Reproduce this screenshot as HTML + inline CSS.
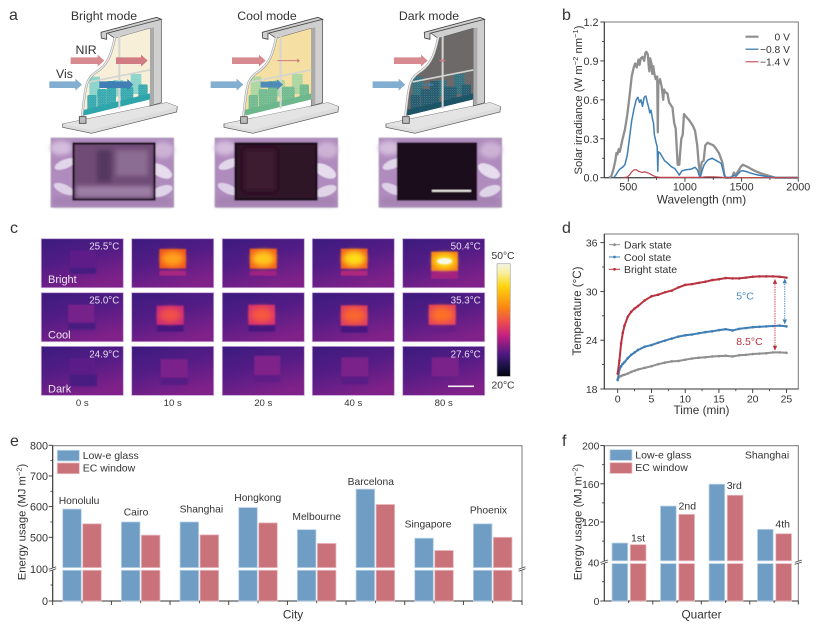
<!DOCTYPE html>
<html lang="en">
<head>
<meta charset="utf-8">
<title>Electrochromic window figure</title>
<style>
html,body{margin:0;padding:0;background:#fff;width:816px;height:626px;overflow:hidden}
svg{display:block}
text{font-family:"Liberation Sans",sans-serif;fill:#333}
</style>
</head>
<body>
<svg id="fig" xmlns="http://www.w3.org/2000/svg" width="816" height="626" viewBox="0 0 816 626">
<defs>
<linearGradient id="tbg" x1="0.1" y1="0" x2="0.55" y2="1">
<stop offset="0" stop-color="#3d1b7e"/><stop offset="0.45" stop-color="#521c85"/><stop offset="1" stop-color="#7f2189"/>
</linearGradient>
<linearGradient id="cbar" x1="0" y1="0" x2="0" y2="1">
<stop offset="0" stop-color="#f4f4e6"/><stop offset="0.08" stop-color="#f8efa0"/><stop offset="0.2" stop-color="#fcd40e"/><stop offset="0.38" stop-color="#fb8a12"/><stop offset="0.52" stop-color="#ec4a4e"/><stop offset="0.64" stop-color="#c21f82"/><stop offset="0.8" stop-color="#4d1a80"/><stop offset="0.92" stop-color="#15123f"/><stop offset="1" stop-color="#02030c"/>
</linearGradient>
<pattern id="speck" width="7" height="7" patternUnits="userSpaceOnUse">
<rect x="1" y="1" width="2.5" height="2.5" fill="#fff" opacity="0.4"/><rect x="4.5" y="4" width="2" height="2" fill="#fff" opacity="0.3"/>
</pattern>
<filter id="blur1" x="-30%" y="-30%" width="160%" height="160%"><feGaussianBlur stdDeviation="0.9"/></filter>
<filter id="blur2" x="-40%" y="-40%" width="180%" height="180%"><feGaussianBlur stdDeviation="3"/></filter>
<filter id="blur3" x="-10%" y="-10%" width="120%" height="120%"><feGaussianBlur stdDeviation="0.5"/></filter>
<filter id="blur4" x="-20%" y="-40%" width="140%" height="180%"><feGaussianBlur stdDeviation="2.2"/></filter>
</defs>

<g font-size="16">
<text x="9" y="20" font-size="16">a</text>
<text x="562" y="20" font-size="16">b</text>
<text x="10" y="233" font-size="16">c</text>
<text x="562" y="233" font-size="16">d</text>
<text x="10" y="446" font-size="16">e</text>
<text x="562" y="446" font-size="16">f</text>
</g>

<g id="panelA"></g>
<text x="104" y="20" font-size="12.3" text-anchor="middle">Bright mode</text>
<text x="267" y="20" font-size="12.3" text-anchor="middle">Cool mode</text>
<text x="429" y="20" font-size="12.3" text-anchor="middle">Dark mode</text>
<text x="75.5" y="54" font-size="12.3">NIR</text>
<text x="56" y="78" font-size="12.3">Vis</text>

<g id="panelB"></g>
<text x="701.5" y="203.5" font-size="11.8" text-anchor="middle">Wavelength (nm)</text>
<text transform="translate(582,100) rotate(-90)" font-size="11.3" text-anchor="middle">Solar irradiance (W m<tspan dy="-4" font-size="7.5">−2</tspan><tspan dy="4"> nm</tspan><tspan dy="-4" font-size="7.5">−1</tspan><tspan dy="4">)</tspan></text>

<g id="panelC"></g>

<g id="panelD"></g>
<text x="701.5" y="414" font-size="11.8" text-anchor="middle">Time (min)</text>
<text transform="translate(581,311) rotate(-90)" font-size="11.6" text-anchor="middle">Temperature (°C)</text>

<g id="panelE"></g>
<text x="293" y="618.5" font-size="11.8" text-anchor="middle">City</text>
<text transform="translate(25.5,522) rotate(-90)" font-size="11.3" text-anchor="middle">Energy usage (MJ m<tspan dy="-4" font-size="7.5">−2</tspan><tspan dy="4">)</tspan></text>

<g id="panelF"></g>
<text x="701.5" y="618.5" font-size="11.8" text-anchor="middle">Quarter</text>
<text transform="translate(581.5,522) rotate(-90)" font-size="11.3" text-anchor="middle">Energy usage (MJ m<tspan dy="-4" font-size="7.5">−2</tspan><tspan dy="4">)</tspan></text>
<text x="767" y="458.5" font-size="10.5" text-anchor="middle">Shanghai</text>
</svg>

<script>
/* ---------- panel b data ---------- */
const grayWavelengths = [330,350,370,385,395,405,415,425,435,450,470,490,510,530,545,560,575,590,600,610,625,640,650,660,672,680,686,692,705,712,720,730,742,755,760,765,780,795,808,816,825,845,860,875,890,905,918,928,936,950,958,968,980,992,1010,1040,1070,1090,1108,1122,1134,1148,1165,1180,1200,1225,1250,1270,1300,1330,1348,1360,1400,1420,1432,1445,1470,1490,1510,1550,1600,1650,1700,1780,1800,2000];
const grayValues = [0,0.01,0.07,0.13,0.19,0.18,0.22,0.2,0.24,0.3,0.37,0.48,0.62,0.78,0.84,0.88,0.85,0.91,0.87,0.92,0.93,0.9,0.96,0.97,0.95,0.86,0.82,0.92,0.88,0.8,0.86,0.8,0.76,0.78,0.35,0.72,0.76,0.7,0.6,0.68,0.66,0.65,0.58,0.56,0.54,0.42,0.38,0.22,0.1,0.1,0.2,0.3,0.33,0.49,0.47,0.44,0.4,0.36,0.25,0.1,0.03,0.12,0.13,0.25,0.27,0.26,0.25,0.23,0.19,0.12,0.02,0,0,0.01,0.04,0.02,0.05,0.08,0.1,0.085,0.06,0.04,0.025,0.005,0,0];
const blueWavelengths = [370,390,410,430,450,470,490,510,530,550,570,585,600,612,625,640,655,668,680,690,700,712,722,730,745,755,760,765,780,800,820,850,880,910,935,950,970,1000,1050,1090,1110,1125,1135,1150,1170,1200,1240,1280,1320,1345,1355,1410,1430,1450,1470,1490,1510,1550,1600,1650,1700,1780,1800,2000];
const blueValues = [0,0.02,0.05,0.07,0.08,0.1,0.17,0.3,0.44,0.53,0.6,0.62,0.58,0.6,0.55,0.62,0.63,0.58,0.54,0.5,0.52,0.46,0.42,0.33,0.27,0.24,0.05,0.2,0.19,0.16,0.13,0.11,0.085,0.07,0.04,0.02,0.05,0.06,0.065,0.08,0.06,0.02,0,0.05,0.1,0.135,0.15,0.13,0.11,0.03,0,0,0.02,0.01,0.03,0.05,0.055,0.045,0.03,0.02,0.012,0.003,0,0];
const redWavelengths = [450,490,510,530,550,570,590,620,640,660,680,710,740,780,1150,1180,1250,1320,1350,2000];
const redValues = [0,0.005,0.02,0.045,0.06,0.062,0.05,0.04,0.045,0.042,0.035,0.02,0.008,0.002,0.002,0.007,0.006,0.004,0,0];
const bXTicks = [500,1000,1500,2000];
const bYTicks = ['0.0','0.3','0.6','0.9','1.2'];
const bLegend = ['0 V','−0.8 V','−1.4 V'];

/* ---------- panel d data ---------- */
const times = [0,0.25,0.5,0.75,1,1.5,2,2.5,3,4,5,6,7,8,9,10,11,12,13,14,15,16,17,18,19,20,21,22,23,24,25];
const brightTemps = [19.9,21.5,23.6,24.9,25.8,26.9,27.5,27.9,28.2,28.9,29.4,29.6,29.9,30.1,30.5,30.8,30.9,31.05,31.2,31.4,31.5,31.65,31.6,31.6,31.7,31.8,31.85,31.85,31.85,31.8,31.7];
const coolTemps = [19.1,20.4,20.8,21.1,21.3,21.8,22.2,22.5,22.8,23.2,23.4,23.7,23.95,24.2,24.45,24.6,24.7,24.85,25,25.1,25.25,25.35,25.2,25.4,25.5,25.6,25.65,25.7,25.75,25.8,25.7];
const darkTemps = [19.2,19.5,19.6,19.7,19.75,19.9,20.1,20.25,20.4,20.6,20.8,21.05,21.25,21.4,21.45,21.6,21.75,21.85,21.9,22,22.05,22.1,22,22.15,22.2,22.3,22.35,22.4,22.5,22.5,22.45];
const dXTicks = [0,5,10,15,20,25];
const dYTicks = [18,24,30,36];
const dLegend = ['Dark state','Cool state','Bright state'];

/* ---------- panel e data ---------- */
const cities = ['Honolulu','Cairo','Shanghai','Hongkong','Melbourne','Barcelona','Singapore','Phoenix'];
const cityLowE = [592,550,550,597,525,657,497,544];
const cityEC = [544,507,508,547,480,607,457,500];
const eYTicks = [0,100,500,600,700,800];
const eYMinor = [50,550,650,750];
const cityLabelLift = [5,6.7,9.4,6.5,9.7,4,10.6,10.4];
const cityLabelShift = [-3,-4.7,2,-0.3,0,-4.6,-6,-4.3];

/* ---------- panel f data ---------- */
const quarters = ['1st','2nd','3rd','4th'];
const quarterLowE = [98,136.7,159.6,112.3];
const quarterEC = [96.3,128,148,107.7];
const fYTicks = [0,40,120,160,200];
const fYMinor = [20,100,140,180];
const barLegend = ['Low-e glass','EC window'];

const NS = 'http://www.w3.org/2000/svg';
function mk(parent, tag, attrs, name) {
  const el = document.createElementNS(NS, tag);
  for (const k in attrs) el.setAttribute(k, attrs[k]);
  
  
  parent.appendChild(el);
  return el;
}
function label(parent, x, y, str, size, anchor, fill, name) {
  const el = mk(parent, 'text', {x:x, y:y, 'font-size':size, 'text-anchor':anchor||'start'}, name);
  if (fill) el.style.fill = fill;
  el.textContent = str;
  return el;
}
function seg(parent, x1, y1, x2, y2, stroke, w, name) {
  return mk(parent, 'line', {x1:x1, y1:y1, x2:x2, y2:y2, stroke:stroke, 'stroke-width':w}, name);
}
const BLUE = '#6f9dc4', RED = '#c9727a';

/* ---------- panel a ---------- */
const panelA = document.getElementById('panelA');
function arrow(g, x0, x1, cy, fill, halfBody, halfHead, headLen, name) {
  const pts = [[x0,cy-halfBody],[x1-headLen,cy-halfBody],[x1-headLen,cy-halfHead],[x1,cy],[x1-headLen,cy+halfHead],[x1-headLen,cy+halfBody],[x0,cy+halfBody]];
  mk(g, 'polygon', {points:pts.join(' '), fill:fill}, name);
}
function buildWindow(dx, key, glass, rear, front, opts) {
  const g = mk(panelA, 'g', {transform:'translate(' + dx + ',0) scale(0.3333)', filter:'url(#blur3)'}, key + '-window-illustration');
  const glassPath = 'M345,115 C335,160 325,190 295,212 C262,232 258,250 252,300 L246,348 L450,298 L450,85 Z';
  mk(g, 'polygon', {points:'188,372 500,308 532,320 530,336 275,400 188,382', fill:'#dcdcdc', stroke:'#555', 'stroke-width':2}, key + '-window-sill');
  mk(g, 'polygon', {points:'188,372 275,390 530,322 532,320 500,308', fill:'#e4e4e4'}, key + '-sill-top');
  mk(g, 'polygon', {points:'320,98 472,54 484,58 484,308 450,318 450,85 345,115', fill:'#cfcfcf', stroke:'#444', 'stroke-width':2}, key + '-window-frame');
  mk(g, 'polygon', {points:'450,85 462,82 462,312 450,316', fill:'#aaa'}, key + '-frame-inner-shade');
  const cid = key + 'Clip';
  const clip = mk(g, 'clipPath', {id:cid}, key + '-glass-clip');
  mk(clip, 'path', {d:glassPath}, key + '-glass-clip-shape');
  mk(g, 'path', {d:glassPath, fill:glass}, key + '-window-glass');
  const city = mk(g, 'g', {'clip-path':'url(#' + cid + ')'}, key + '-city-skyline');
  [[268,230,32,60],[392,222,32,60],[340,240,30,50]].forEach(function (b) {
    mk(city, 'rect', {x:b[0], y:b[1], width:b[2], height:b[3], fill:rear}, key + '-rear-building');
    mk(city, 'rect', {x:b[0], y:b[1], width:b[2], height:b[3], fill:'url(#speck)'}, key + '-rear-building-windows');
  });
  [[262,285,28,70],[292,267,28,80],[320,243,28,90],[362,260,38,70],[415,253,28,60]].forEach(function (b) {
    mk(city, 'rect', {x:b[0], y:b[1], width:b[2], height:b[3], rx:5, fill:front}, key + '-front-building');
    mk(city, 'rect', {x:b[0], y:b[1], width:b[2], height:b[3], rx:5, fill:'url(#speck)'}, key + '-front-building-windows');
  });
  mk(city, 'polygon', {points:'250,330 450,280 450,300 250,352', fill:front}, key + '-city-base');
  mk(g, 'line', {x1:358, y1:108, x2:358, y2:326, stroke:'#d2d5d2', 'stroke-width':6}, key + '-vertical-muntin');
  mk(g, 'line', {x1:268, y1:246, x2:450, y2:210, stroke:'#d2d5d2', 'stroke-width':5}, key + '-horizontal-muntin');
  mk(g, 'path', {d:'M345,112 C335,160 325,190 295,212 C262,232 258,250 252,300 L246,350', fill:'none', stroke:'#888', 'stroke-width':7}, key + '-sash-edge');
  mk(g, 'path', {d:'M345,112 C335,160 325,190 295,212 C262,232 258,250 252,300 L246,350', fill:'none', stroke:'#e8eaea', 'stroke-width':4.4}, key + '-sash-face');
  mk(g, 'polygon', {points:'303,97 470,52 484,58 320,100 320,118 304,114', fill:'#cfcfcf', stroke:'#444', 'stroke-width':2.5}, key + '-top-beam');
  mk(g, 'rect', {x:238, y:350, width:20, height:20, fill:'#bbb', stroke:'#444', 'stroke-width':2.5}, key + '-sash-foot');
  arrow(g, 212, 313, 182, '#d78a8f', 10, 18, 20, key + '-outer-nir-arrow');
  arrow(g, 148, 246, 254, '#82aed2', 10, 18, 20, key + '-outer-vis-arrow');
  if (opts.nirInner) {
    arrow(g, 348, opts.nirInner, 182, '#d07c82', opts.thin ? 1.5 : 10, opts.thin ? 7 : 18, opts.thin ? 8 : 20, key + '-transmitted-nir-arrow');
  }
  arrow(g, 298, opts.visInner, 254, opts.visColor, opts.visBody, opts.visHead, 18, key + '-transmitted-vis-arrow');
}
buildWindow(0, 'bright', '#f8efd8', '#86d2c8', '#2fa5ab', {nirInner:443, visInner:400, visColor:'#3f7fb5', visBody:10, visHead:17});
buildWindow(161.3, 'cool', '#f6dfa2', '#a8d49a', '#6cb78b', {nirInner:416, thin:true, visInner:365, visColor:'#4f8bb8', visBody:9, visHead:16});
buildWindow(323.3, 'dark', '#6d6967', '#2b6a78', '#1c5468', {nirInner:366, thin:true, visInner:334, visColor:'#3f7fb0', visBody:1.5, visHead:5});

function photo(x, rx, rw, fill, border, key) {
  const g = mk(panelA, 'g', {filter:'url(#blur3)'}, key + '-device-photo');
  mk(g, 'rect', {x:x, y:138, width:122.7, height:69.3, fill:'#b08cbe', stroke:'#a99bb0', 'stroke-width':0.7}, key + '-photo-background');
  mk(g, 'ellipse', {cx:x+10, cy:148, rx:11, ry:7, fill:'#d4bcdc', filter:'url(#blur4)'}, key + '-photo-left-tree');
  mk(g, 'ellipse', {cx:x+112, cy:150, rx:11, ry:8, fill:'#cdb2d6', filter:'url(#blur4)'}, key + '-photo-right-tree');
  mk(g, 'rect', {x:x+2, y:197, width:118, height:9, fill:'#a482b2', filter:'url(#blur4)'}, key + '-photo-ground');
  mk(g, 'ellipse', {cx:x+14, cy:164, rx:11, ry:4.5, fill:'#e2d6ea', transform:'rotate(-22 ' + (x+14) + ' 164)'}, key + '-left-upper-glove');
  mk(g, 'ellipse', {cx:x+13, cy:189, rx:11, ry:4.5, fill:'#ddd0e6', transform:'rotate(25 ' + (x+13) + ' 189)'}, key + '-left-lower-glove');
  mk(g, 'ellipse', {cx:x+110, cy:171, rx:12, ry:6, fill:'#e6dcee', transform:'rotate(28 ' + (x+110) + ' 171)'}, key + '-right-upper-glove');
  mk(g, 'ellipse', {cx:x+111, cy:191, rx:11, ry:5, fill:'#e0d4e8', transform:'rotate(-20 ' + (x+111) + ' 191)'}, key + '-right-lower-glove');
  mk(g, 'rect', {x:rx, y:143.5, width:rw, height:56, fill:fill, stroke:border, 'stroke-width':2.2}, key + '-device-panel');
  return g;
}
const brightPhoto = photo(51, 73.5, 81, '#6f4c76', '#150a18', 'bright');
mk(brightPhoto, 'rect', {x:97, y:150, width:14, height:32, fill:'#54395e', filter:'url(#blur4)'}, 'bright-photo-building');
mk(brightPhoto, 'rect', {x:116, y:150, width:32, height:26, fill:'#8b6c92', filter:'url(#blur4)'}, 'bright-photo-tree');
mk(brightPhoto, 'rect', {x:76, y:186, width:76, height:11, fill:'#9d7fa6', filter:'url(#blur4)'}, 'bright-photo-foreground');
const coolPhoto = photo(215, 235.5, 81, '#2f1226', '#150a18', 'cool');
mk(coolPhoto, 'rect', {x:245, y:150, width:30, height:40, fill:'#431a34', opacity:0.8, filter:'url(#blur4)'}, 'cool-photo-tree-shadow');
const darkPhoto = photo(379, 398, 78, '#1d0a1e', '#1a0a1b', 'dark');
mk(darkPhoto, 'rect', {x:432, y:190, width:39, height:1.8, fill:'#f2f0ea'}, 'photo-scale-bar');

/* ---------- panel b chart ---------- */
const panelB = document.getElementById('panelB');
const bx = function (w) { return 628.3 + (w - 500) * 0.1133; };
const by = function (v) { return 177.7 - v * 129.75; };
mk(panelB, 'rect', {x:604.3, y:22, width:194, height:155.7, fill:'none', stroke:'#777', 'stroke-width':1}, 'b-plot-frame');
seg(panelB, 604.3, 22, 604.3, 178, '#333', 1, 'b-y-axis');
seg(panelB, 604, 177.7, 798.3, 177.7, '#333', 1, 'b-x-axis');
bXTicks.forEach(function (t) {
  seg(panelB, bx(t), 177.7, bx(t), 181.7, '#333', 0.9, 'b-x-tick');
  label(panelB, bx(t), 190.5, String(t), 10.8, 'middle', null, 'b-x-tick-label');
  if (t < 2000) seg(panelB, bx(t + 250), 177.7, bx(t + 250), 180, '#333', 0.8, 'b-x-minor-tick');
});
bYTicks.forEach(function (t) {
  const v = parseFloat(t);
  seg(panelB, 600.3, by(v), 604.3, by(v), '#333', 0.9, 'b-y-tick');
  label(panelB, 598.5, by(v) + 4, t, 10.8, 'end', null, 'b-y-tick-label');
  if (v < 1.2) seg(panelB, 602, by(v + 0.15), 604.3, by(v + 0.15), '#333', 0.8, 'b-y-minor-tick');
});
function spectrum(xs, ys, color, w, name) {
  const pts = xs.map(function (x, i) { return bx(x).toFixed(1) + ',' + by(ys[i]).toFixed(1); }).join(' ');
  mk(panelB, 'polyline', {points:pts, fill:'none', stroke:color, 'stroke-width':w, 'stroke-linejoin':'round'}, name);
}
spectrum(grayWavelengths, grayValues, '#8f8f8f', 2.3, 'gray-0v-spectrum');
spectrum(blueWavelengths, blueValues, '#3f7fb5', 1.5, 'blue-minus-0.8v-spectrum');
spectrum(redWavelengths, redValues, '#c0434f', 1.2, 'red-minus-1.4v-spectrum');
['#8f8f8f', '#3f7fb5', '#d0646e'].forEach(function (c, i) {
  seg(panelB, 745.5, 36.7 + i * 12.5, 758.5, 36.7 + i * 12.5, c, i === 0 ? 2.2 : 1.3, 'b-legend-line');
  label(panelB, 790, 40.6 + i * 12.5, bLegend[i], 10.3, 'end', null, 'b-legend-label');
});

/* ---------- panel c ---------- */
const panelC = document.getElementById('panelC');
const TILE_W = 82, TILE_H = 49;
function tile(x, y, key, hot, strip, temp) {
  const g = mk(panelC, 'g', {transform:'translate(' + x + ',' + y + ')'}, key + '-thermal-image');
  mk(g, 'rect', {x:0, y:0, width:TILE_W, height:TILE_H, fill:'url(#tbg)'}, key + '-image-background');
  const inner = mk(g, 'g', {filter:'url(#blur1)'}, key + '-hot-sample');
  mk(inner, 'rect', {x:strip[0], y:strip[1], width:strip[2], height:strip[3], fill:strip[4]}, key + '-sample-stand');
  mk(inner, 'rect', {x:hot[0], y:hot[1], width:hot[2], height:hot[3], fill:hot[4]}, key + '-sample-surface');
  if (hot[5]) mk(g, 'ellipse', {cx:hot[0]+hot[2]/2, cy:hot[1]+hot[3]/2, rx:hot[2]*0.42, ry:hot[3]*0.38, fill:hot[5], filter:'url(#blur2)'}, key + '-sample-core');
  if (hot[6]) mk(g, 'ellipse', {cx:hot[0]+hot[2]/2, cy:hot[1]+hot[3]/2, rx:hot[2]*0.28, ry:hot[3]*0.17, fill:hot[6], filter:'url(#blur1)'}, key + '-sample-peak');
  mk(g, 'rect', {x:0, y:0, width:TILE_W, height:TILE_H, fill:'none', stroke:'#c6a6d6', 'stroke-width':0.8}, key + '-image-border');
  if (temp) label(g, 78, 11, temp, 9.8, 'end', '#e8dcf0', key + '-peak-temperature');
  return g;
}
const colX = [41.3, 131.7, 222.3, 312.3, 402.7];
const rowY = [238.7, 292.7, 346.4];
tile(colX[0], rowY[0], 'bright-0s', [28.7,12,26,17,'#5d1f88'], [28.7,29,26,6,'#451a80'], '25.5°C');
tile(colX[1], rowY[0], 'bright-10s', [27.7,10.3,26.6,19.4,'#f0551f','#ffa01a'], [27.7,32,26.6,5,'#a8257f'], '');
tile(colX[2], rowY[0], 'bright-20s', [27.5,10,27,20,'#f4601f','#ffc81a'], [27.5,32,27,5,'#9f2380'], '');
tile(colX[3], rowY[0], 'bright-40s', [28.5,10,26.7,20,'#f46020','#ffdc18'], [28.5,32,26.7,5,'#b0267c'], '');
tile(colX[4], rowY[0], 'bright-80s', [28.5,13,26.7,19,'#f98517','#fde015','#f7f7ea'], [28.5,32,26.7,8,'#a4237f'], '50.4°C');
tile(colX[0], rowY[1], 'cool-0s', [27,12,26,18,'#76208a'], [27,30,27,7,'#4a1a82'], '25.0°C');
tile(colX[1], rowY[1], 'cool-10s', [25,13,27,19,'#c92a78','#f0504a'], [25,32,27,7,'#47197f'], '');
tile(colX[2], rowY[1], 'cool-20s', [26,12,26.7,20,'#d8306f','#f5573f'], [26,32,26.7,7,'#46197f'], '');
tile(colX[3], rowY[1], 'cool-40s', [28.5,12.7,26.7,20,'#e03f5f','#f9652e'], [28.5,33,26.7,7,'#47197f'], '');
tile(colX[4], rowY[1], 'cool-80s', [26,12,27,20,'#e6455a','#fb6f28'], [26,32,27,7,'#681f86'], '35.3°C');
tile(colX[0], rowY[2], 'dark-0s', [28.5,12,25,16,'#5c1f88'], [28.5,28,27,12,'#4a1a82'], '24.9°C');
tile(colX[1], rowY[2], 'dark-10s', [29,12.7,27,18.6,'#7a2089'], [29,31.3,27,7,'#551b84'], '');
tile(colX[2], rowY[2], 'dark-20s', [32,9.5,26,19,'#7f2189'], [32,28.5,26,7,'#5e1d86'], '');
tile(colX[3], rowY[2], 'dark-40s', [29,11,27,19,'#7a2089'], [29,30,27,8,'#5a1c85'], '');
tile(colX[4], rowY[2], 'dark-80s', [29,11,27,19,'#7a2089'], [29,30,27,0,'#561c85'], '27.6°C');
label(panelC, 48, 283, 'Bright', 11, 'start', '#eee6f4', 'bright-row-label');
label(panelC, 48, 338.5, 'Cool', 11, 'start', '#eee6f4', 'cool-row-label');
label(panelC, 48, 392.5, 'Dark', 11, 'start', '#eee6f4', 'dark-row-label');
['0 s','10 s','20 s','40 s','80 s'].forEach(function (s, i) {
  label(panelC, colX[i] + 41, 406, s, 9.6, 'middle', null, 'time-column-label');
});
mk(panelC, 'rect', {x:448, y:385.5, width:26, height:1.6, fill:'#f4f2f2'}, 'thermal-scale-bar');
mk(panelC, 'rect', {x:497, y:263.7, width:13.3, height:112.7, fill:'url(#cbar)', stroke:'#aaa', 'stroke-width':0.7}, 'temperature-colorbar');
label(panelC, 503, 259, '50°C', 10.3, 'middle', null, 'colorbar-max-label');
label(panelC, 503, 388.5, '20°C', 10.3, 'middle', null, 'colorbar-min-label');

/* ---------- panel d chart ---------- */
const panelD = document.getElementById('panelD');
const dx = function (t) { return 617.7 + t * 6.75; };
const dy = function (v) { return 389 - (v - 18) * 8.13; };
mk(panelD, 'rect', {x:604.3, y:234, width:194, height:155, fill:'none', stroke:'#777', 'stroke-width':1}, 'd-plot-frame');
seg(panelD, 604.3, 234, 604.3, 389.5, '#333', 1, 'd-y-axis');
seg(panelD, 604, 389, 798.3, 389, '#333', 1, 'd-x-axis');
dXTicks.forEach(function (t) {
  seg(panelD, dx(t), 389, dx(t), 393, '#333', 0.9, 'd-x-tick');
  label(panelD, dx(t), 402.5, String(t), 10.5, 'middle', null, 'd-x-tick-label');
  if (t < 25) seg(panelD, dx(t + 2.5), 389, dx(t + 2.5), 391.2, '#333', 0.8, 'd-x-minor-tick');
});
dYTicks.forEach(function (t) {
  seg(panelD, 600.3, dy(t), 604.3, dy(t), '#333', 0.9, 'd-y-tick');
  label(panelD, 597.5, dy(t) + 4, String(t), 10.5, 'end', null, 'd-y-tick-label');
  if (t < 36) seg(panelD, 602, dy(t + 3), 604.3, dy(t + 3), '#333', 0.8, 'd-y-minor-tick');
});
function tempSeries(vals, color, key) {
  const g = mk(panelD, 'g', {}, key + '-state-series');
  const pts = times.map(function (t, i) { return dx(t).toFixed(1) + ',' + dy(vals[i]).toFixed(1); }).join(' ');
  mk(g, 'polyline', {points:pts, fill:'none', stroke:color, 'stroke-width':2}, key + '-state-line');
  times.forEach(function (t, i) {
    mk(g, 'circle', {cx:dx(t), cy:dy(vals[i]), r:1.3, fill:color}, key + '-state-point');
  });
}
tempSeries(darkTemps, '#8e8e8e', 'dark');
tempSeries(coolTemps, '#3f7fb5', 'cool');
tempSeries(brightTemps, '#b8323f', 'bright');
['#8e8e8e','#3f7fb5','#b8323f'].forEach(function (c, i) {
  const ly = 244.7 + i * 12.3;
  seg(panelD, 609, ly, 620, ly, c, 1, 'd-legend-line');
  mk(panelD, 'circle', {cx:614.5, cy:ly, r:1.4, fill:c}, 'd-legend-marker');
  label(panelD, 624, ly + 3.8, dLegend[i], 10.5, 'start', null, 'd-legend-label');
});
function doubleArrow(t, v1, v2, color, key) {
  const x = dx(t), y1 = dy(v1), y2 = dy(v2);
  seg(panelD, x, y1 + 3, x, y2 - 3, color, 0.9, key + '-difference-line').setAttribute('stroke-dasharray', '1.4 1');
  mk(panelD, 'polygon', {points:[x,y1, x-2.2,y1+5, x+2.2,y1+5].join(' '), fill:color}, key + '-arrow-head-top');
  mk(panelD, 'polygon', {points:[x,y2, x-2.2,y2-5, x+2.2,y2-5].join(' '), fill:color}, key + '-arrow-head-bottom');
}
doubleArrow(23.3, 31.55, 22.7, '#b8323f', 'red');
doubleArrow(24.75, 31.6, 25.95, '#3f7fb5', 'blue');
label(panelD, 745, 299.5, '5°C', 10.5, 'middle', '#4b8ac0', 'five-degree-annotation');
label(panelD, 749.5, 345, '8.5°C', 10.5, 'middle', '#b8323f', 'eight-point-five-degree-annotation');

/* ---------- bar chart helpers ---------- */
function barFrame(g, left, right, key) {
  mk(g, 'rect', {x:left, y:445.7, width:right-left, height:155.3, fill:'none', stroke:'#777', 'stroke-width':1}, key + '-plot-frame');
  seg(g, left, 445.7, left, 601.5, '#333', 1, key + '-y-axis');
  seg(g, left, 601, right, 601, '#333', 1, key + '-x-axis');
}
function brokenBar(g, x, w, top, gapTop, gapBottom, baseY, fill, edge, name) {
  mk(g, 'rect', {x:x, y:top, width:w, height:gapTop-top, fill:fill, stroke:edge, 'stroke-width':0.8}, name + '-upper');
  mk(g, 'rect', {x:x, y:gapBottom, width:w, height:baseY-gapBottom, fill:fill, stroke:edge, 'stroke-width':0.8}, name + '-lower');
}
function breakMark(g, x, y, name) {
  mk(g, 'rect', {x:x-3.5, y:y-1.3, width:7, height:2.6, fill:'#fff'}, name + '-gap');
  seg(g, x-3.5, y+0.2, x+3.5, y-2.2, '#444', 0.8, name + '-upper-stroke');
  seg(g, x-3.5, y+2.2, x+3.5, y-0.2, '#444', 0.8, name + '-lower-stroke');
}
function barLegendDraw(g, sx, sw, y1, y2, tx, key) {
  mk(g, 'rect', {x:sx, y:y1, width:sw, height:10.7, fill:BLUE, stroke:'#bcd4e8', 'stroke-width':0.8}, key + '-legend-swatch-low-e');
  mk(g, 'rect', {x:sx, y:y2, width:sw, height:10.7, fill:RED, stroke:'#e8bcc0', 'stroke-width':0.8}, key + '-legend-swatch-ec');
  label(g, tx, y1 + 8.7, barLegend[0], 10.5, 'start', null, key + '-legend-label-low-e');
  label(g, tx, y2 + 8.3, barLegend[1], 10.5, 'start', null, key + '-legend-label-ec');
}

/* ---------- panel e chart ---------- */
const panelE = document.getElementById('panelE');
const eY = function (v) { return v <= 100 ? 601 - v * 0.32 : 537.3 - (v - 500) * 0.3067; };
const eGroup = 58.67, eLeft = 52.7, eRight = 522;
barFrame(panelE, eLeft, eRight, 'e');
eYTicks.forEach(function (t) {
  seg(panelE, 48.7, eY(t), eLeft, eY(t), '#333', 0.9, 'e-y-tick');
  label(panelE, 48, eY(t) + 4, String(t), 10.8, 'end', null, 'e-y-tick-label');
});
eYMinor.forEach(function (t) {
  seg(panelE, 50.4, eY(t), eLeft, eY(t), '#333', 0.8, 'e-y-minor-tick');
});
cities.forEach(function (c, i) {
  const x0 = eLeft + i * eGroup;
  seg(panelE, x0, 601, x0, 605, '#333', 0.9, 'e-x-tick');
  seg(panelE, x0 + eGroup / 2, 601, x0 + eGroup / 2, 603.2, '#333', 0.8, 'e-x-minor-tick');
  brokenBar(panelE, x0 + 10, 18.6, eY(cityLowE[i]), 567.6, 570.3, 601, BLUE, '#bcd4e8', 'e-low-e-bar');
  brokenBar(panelE, x0 + 30, 18.6, eY(cityEC[i]), 567.6, 570.3, 601, RED, '#e8bcc0', 'e-ec-bar');
  label(panelE, x0 + eGroup / 2 + cityLabelShift[i], eY(cityLowE[i]) - cityLabelLift[i], c, 10.3, 'middle', null, 'city-label');
});
seg(panelE, eRight, 601, eRight, 605, '#333', 0.9, 'e-x-tick');
breakMark(panelE, eLeft, 569, 'e-left-axis-break');
breakMark(panelE, eRight, 569, 'e-right-axis-break');
barLegendDraw(panelE, 57.3, 22, 450.3, 463, 82.7, 'e');

/* ---------- panel f chart ---------- */
const panelF = document.getElementById('panelF');
const fY = function (v) { return v <= 40 ? 601 - v * 0.965 : 522 - (v - 120) * 0.955; };
const fGroup = 48.5, fLeft = 604.3, fRight = 798.3;
barFrame(panelF, fLeft, fRight, 'f');
fYTicks.forEach(function (t) {
  seg(panelF, 600.3, fY(t), fLeft, fY(t), '#333', 0.9, 'f-y-tick');
  label(panelF, 599.3, fY(t) + 4, String(t), 10.3, 'end', null, 'f-y-tick-label');
});
fYMinor.forEach(function (t) {
  seg(panelF, 602, fY(t), fLeft, fY(t), '#333', 0.8, 'f-y-minor-tick');
});
const fLabelY = [541.7, 509.3, 489, 527.3];
const fLabelX = [638, 687.3, 734.3, 782.7];
quarters.forEach(function (q, i) {
  const x0 = fLeft + i * fGroup;
  seg(panelF, x0 + fGroup, 601, x0 + fGroup, 604.5, '#333', 0.9, 'f-x-tick');
  seg(panelF, x0 + fGroup / 2, 601, x0 + fGroup / 2, 603, '#333', 0.8, 'f-x-minor-tick');
  brokenBar(panelF, x0 + 7.7, 15.7, fY(quarterLowE[i]), 560.8, 563.6, 601, BLUE, '#bcd4e8', 'f-low-e-bar');
  brokenBar(panelF, x0 + 26, 15.7, fY(quarterEC[i]), 560.8, 563.6, 601, RED, '#e8bcc0', 'f-ec-bar');
  label(panelF, fLabelX[i], fLabelY[i], q, 10.5, 'middle', null, 'quarter-label');
});
breakMark(panelF, fLeft, 562.2, 'f-left-axis-break');
breakMark(panelF, fRight, 562.2, 'f-right-axis-break');
barLegendDraw(panelF, 610, 22, 449.7, 462.7, 635.3, 'f');
</script>
</body>
</html>
